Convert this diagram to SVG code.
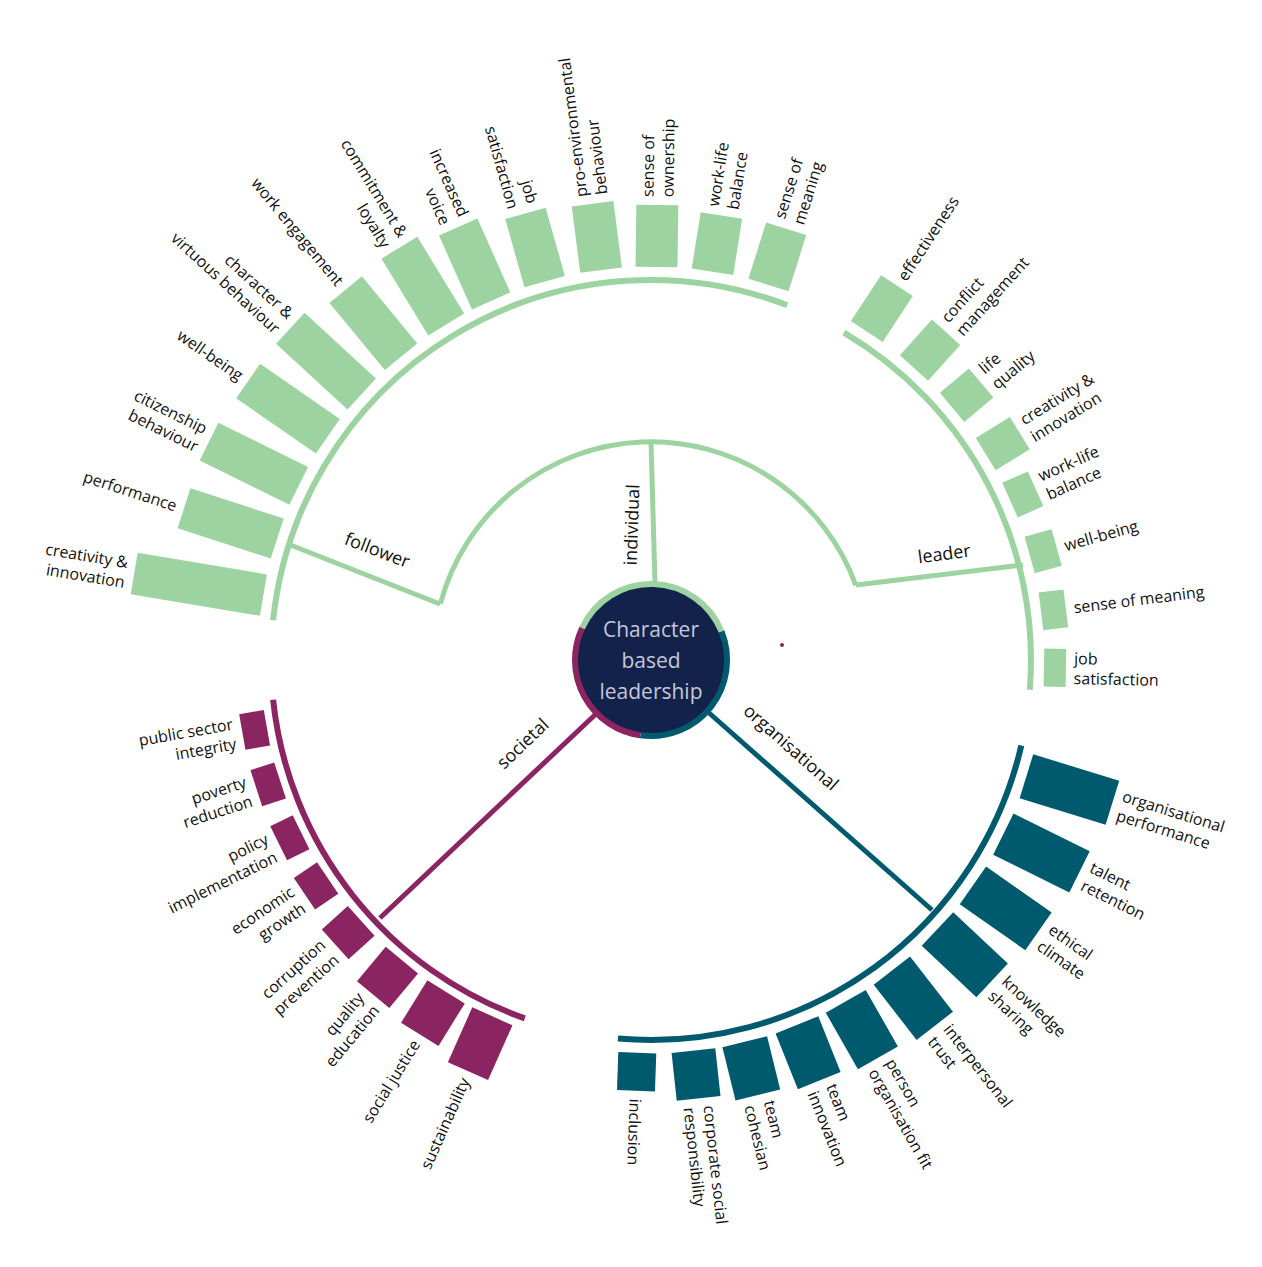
<svg xmlns="http://www.w3.org/2000/svg" width="1262" height="1267" viewBox="0 0 1262 1267">
<style>
.g{fill:#9dd3a0}.b{fill:#005a6e}.p{fill:#8b2562}
.t{font-family:"Open Sans",sans-serif;font-size:16px;fill:#111}
.c{font-family:"Open Sans",sans-serif;font-size:18px;fill:#111;text-anchor:middle}
.sg{stroke:#9dd3a0}.sb{stroke:#005a6e}.sp{stroke:#8b2562}
path,line{fill:none}
</style>
<rect width="1262" height="1267" fill="#fff"/>
<g id="connectors" stroke-width="5">
<path class="sg" stroke-width="6" d="M273.1 620.3 A380 380 0 0 1 787.2 305.2"/>
<path class="sg" stroke-width="6" d="M843.9 332.6 A380 380 0 0 1 1029.8 689.8"/>
<path class="sb" stroke-width="6" d="M1021.3 745.5 A380 380 0 0 1 617.9 1038.6"/>
<path class="sp" stroke-width="6" d="M524.8 1018.4 A380 380 0 0 1 273.1 699.7"/>
<path class="sg" d="M440.4 603.6 A218 218 0 0 1 855.9 585.4"/>
<line class="sg" x1="651" y1="442" x2="655" y2="583"/>
<line class="sg" x1="440" y1="604" x2="288" y2="544"/>
<line class="sg" x1="856" y1="585" x2="1023" y2="565"/>
<line class="sb" x1="708" y1="712" x2="932" y2="910"/>
<line class="sp" x1="598" y1="712" x2="380" y2="918"/>
</g>
<g id="center">
<circle cx="651" cy="660" r="74" fill="#13224a"/>
<path class="sg" stroke-width="6" d="M582.1 627.9 A76 76 0 0 1 721.5 631.5"/>
<path class="sb" stroke-width="6" d="M721.5 631.5 A76 76 0 0 1 640.4 735.3"/>
<path class="sp" stroke-width="6" d="M640.4 735.3 A76 76 0 0 1 582.1 627.9"/>
<text font-family="Open Sans,sans-serif" font-size="21" fill="#c4c6da" text-anchor="middle"><tspan x="651" y="637">Character</tspan><tspan x="651" y="668">based</tspan><tspan x="651" y="699">leadership</tspan></text>
<circle cx="782" cy="645" r="2" fill="#8b2562"/>
</g>
<g id="categories">
<text class="c" transform="translate(375 556) rotate(21)">follower</text>
<text class="c" transform="translate(945 560) rotate(-7.5)">leader</text>
<text class="c" transform="translate(638 525) rotate(-88)">individual</text>
<text class="c" transform="translate(787 752) rotate(41.5)">organisational</text>
<text class="c" transform="translate(527 748) rotate(-43.5)">societal</text>
</g>
<g id="follower">
<g id="f1"><rect class="g" x="393" y="-21" width="131" height="42" transform="translate(651 660) rotate(189.5)"/><text class="t" text-anchor="end" transform="translate(651 660) rotate(189.5) translate(532 0) rotate(180)"><tspan x="0" y="-4">creativity &amp;</tspan><tspan x="0" y="16">innovation</tspan></text></g>
<g id="f2"><rect class="g" x="393" y="-21" width="98" height="42" transform="translate(651 660) rotate(198)"/><text class="t" text-anchor="end" transform="translate(651 660) rotate(198) translate(499 0) rotate(180)"><tspan x="0" y="6">performance</tspan></text></g>
<g id="f3"><rect class="g" x="393" y="-21" width="100" height="42" transform="translate(651 660) rotate(206.3)"/><text class="t" text-anchor="end" transform="translate(651 660) rotate(206.3) translate(501 0) rotate(180)"><tspan x="0" y="-4">citizenship</tspan><tspan x="0" y="16">behaviour</tspan></text></g>
<g id="f4"><rect class="g" x="393" y="-21" width="97" height="42" transform="translate(651 660) rotate(214.7)"/><text class="t" text-anchor="end" transform="translate(651 660) rotate(214.7) translate(498 0) rotate(180)"><tspan x="0" y="6">well-being</tspan></text></g>
<g id="f5"><rect class="g" x="393" y="-21" width="97" height="42" transform="translate(651 660) rotate(222.6)"/><text class="t" text-anchor="end" transform="translate(651 660) rotate(222.6) translate(498 0) rotate(180)"><tspan x="0" y="-4">character &amp;</tspan><tspan x="0" y="16">virtuous behaviour</tspan></text></g>
<g id="f6"><rect class="g" x="393" y="-21" width="87" height="42" transform="translate(651 660) rotate(230.5)"/><text class="t" text-anchor="end" transform="translate(651 660) rotate(230.5) translate(488 0) rotate(180)"><tspan x="0" y="6">work engagement</tspan></text></g>
<g id="f7"><rect class="g" x="393" y="-21" width="90" height="42" transform="translate(651 660) rotate(238.6)"/><text class="t" text-anchor="end" transform="translate(651 660) rotate(238.6) translate(491 0) rotate(180)"><tspan x="0" y="-4">commitment &amp;</tspan><tspan x="0" y="16">loyalty</tspan></text></g>
<g id="f8"><rect class="g" x="393" y="-21" width="81" height="42" transform="translate(651 660) rotate(246)"/><text class="t" text-anchor="end" transform="translate(651 660) rotate(246) translate(482 0) rotate(180)"><tspan x="0" y="-4">increased</tspan><tspan x="0" y="16">voice</tspan></text></g>
<g id="f9"><rect class="g" x="393" y="-21" width="71" height="42" transform="translate(651 660) rotate(254.3)"/><text class="t" text-anchor="end" transform="translate(651 660) rotate(254.3) translate(472 0) rotate(180)"><tspan x="0" y="-4">job</tspan><tspan x="0" y="16">satisfaction</tspan></text></g>
<g id="f10"><rect class="g" x="393" y="-21" width="67" height="42" transform="translate(651 660) rotate(262.7)"/><text class="t" transform="translate(651 660) rotate(262.7) translate(468 0)"><tspan x="0" y="-4">pro-environmental</tspan><tspan x="0" y="16">behaviour</tspan></text></g>
<g id="f11"><rect class="g" x="393" y="-21" width="62" height="42" transform="translate(651 660) rotate(270.8)"/><text class="t" transform="translate(651 660) rotate(270.8) translate(463 0)"><tspan x="0" y="-4">sense of</tspan><tspan x="0" y="16">ownership</tspan></text></g>
<g id="f12"><rect class="g" x="393" y="-21" width="57" height="42" transform="translate(651 660) rotate(279)"/><text class="t" transform="translate(651 660) rotate(279) translate(458 0)"><tspan x="0" y="-4">work-life</tspan><tspan x="0" y="16">balance</tspan></text></g>
<g id="f13"><rect class="g" x="393" y="-21" width="59" height="42" transform="translate(651 660) rotate(287.4)"/><text class="t" transform="translate(651 660) rotate(287.4) translate(460 0)"><tspan x="0" y="-4">sense of</tspan><tspan x="0" y="16">meaning</tspan></text></g>
</g>
<g id="leader">
<g id="l1"><rect class="g" x="393" y="-19" width="55" height="38" transform="translate(651 660) rotate(303.3)"/><text class="t" transform="translate(651 660) rotate(303.3) translate(456 0)"><tspan x="0" y="6">effectiveness</tspan></text></g>
<g id="l2"><rect class="g" x="393" y="-19" width="48" height="38" transform="translate(651 660) rotate(312)"/><text class="t" transform="translate(651 660) rotate(312) translate(449 0)"><tspan x="0" y="-4">conflict</tspan><tspan x="0" y="16">management</tspan></text></g>
<g id="l3"><rect class="g" x="393" y="-19" width="38" height="38" transform="translate(651 660) rotate(320)"/><text class="t" transform="translate(651 660) rotate(320) translate(439 0)"><tspan x="0" y="-4">life</tspan><tspan x="0" y="16">quality</tspan></text></g>
<g id="l4"><rect class="g" x="393" y="-19" width="40" height="38" transform="translate(651 660) rotate(328.4)"/><text class="t" transform="translate(651 660) rotate(328.4) translate(441 0)"><tspan x="0" y="-4">creativity &amp;</tspan><tspan x="0" y="16">innovation</tspan></text></g>
<g id="l5"><rect class="g" x="393" y="-19" width="28" height="38" transform="translate(651 660) rotate(336)"/><text class="t" transform="translate(651 660) rotate(336) translate(429 0)"><tspan x="0" y="-4">work-life</tspan><tspan x="0" y="16">balance</tspan></text></g>
<g id="l6"><rect class="g" x="393" y="-19" width="28" height="38" transform="translate(651 660) rotate(344.5)"/><text class="t" transform="translate(651 660) rotate(344.5) translate(429 0)"><tspan x="0" y="6">well-being</tspan></text></g>
<g id="l7"><rect class="g" x="393" y="-19" width="25" height="38" transform="translate(651 660) rotate(352.9)"/><text class="t" transform="translate(651 660) rotate(352.9) translate(426 0)"><tspan x="0" y="6">sense of meaning</tspan></text></g>
<g id="l8"><rect class="g" x="393" y="-19" width="22" height="38" transform="translate(651 660) rotate(361.1)"/><text class="t" transform="translate(651 660) rotate(361.1) translate(423 0)"><tspan x="0" y="-4">job</tspan><tspan x="0" y="16">satisfaction</tspan></text></g>
</g>
<g id="organisational">
<g id="o1"><rect class="b" x="393" y="-23" width="90" height="46" transform="translate(651 660) rotate(17.2)"/><text class="t" transform="translate(651 660) rotate(17.2) translate(491 0)"><tspan x="0" y="-4">organisational</tspan><tspan x="0" y="16">performance</tspan></text></g>
<g id="o2"><rect class="b" x="393" y="-23" width="85" height="46" transform="translate(651 660) rotate(26.3)"/><text class="t" transform="translate(651 660) rotate(26.3) translate(486 0)"><tspan x="0" y="-4">talent</tspan><tspan x="0" y="16">retention</tspan></text></g>
<g id="o3"><rect class="b" x="393" y="-23" width="80" height="46" transform="translate(651 660) rotate(35)"/><text class="t" transform="translate(651 660) rotate(35) translate(481 0)"><tspan x="0" y="-4">ethical</tspan><tspan x="0" y="16">climate</tspan></text></g>
<g id="o4"><rect class="b" x="393" y="-23" width="75" height="46" transform="translate(651 660) rotate(43.2)"/><text class="t" transform="translate(651 660) rotate(43.2) translate(476 0)"><tspan x="0" y="-4">knowledge</tspan><tspan x="0" y="16">sharing</tspan></text></g>
<g id="o5"><rect class="b" x="393" y="-23" width="70" height="46" transform="translate(651 660) rotate(52.2)"/><text class="t" transform="translate(651 660) rotate(52.2) translate(471 0)"><tspan x="0" y="-4">interpersonal</tspan><tspan x="0" y="16">trust</tspan></text></g>
<g id="o6"><rect class="b" x="393" y="-23" width="65" height="46" transform="translate(651 660) rotate(60.3)"/><text class="t" transform="translate(651 660) rotate(60.3) translate(466 0)"><tspan x="0" y="-4">person</tspan><tspan x="0" y="16">organisation fit</tspan></text></g>
<g id="o7"><rect class="b" x="393" y="-23" width="60" height="46" transform="translate(651 660) rotate(68.2)"/><text class="t" transform="translate(651 660) rotate(68.2) translate(461 0)"><tspan x="0" y="-4">team</tspan><tspan x="0" y="16">innovation</tspan></text></g>
<g id="o8"><rect class="b" x="393" y="-23" width="55" height="46" transform="translate(651 660) rotate(76.2)"/><text class="t" transform="translate(651 660) rotate(76.2) translate(456 0)"><tspan x="0" y="-4">team</tspan><tspan x="0" y="16">cohesian</tspan></text></g>
<g id="o9"><rect class="b" x="393" y="-22" width="48" height="44" transform="translate(651 660) rotate(83.8)"/><text class="t" transform="translate(651 660) rotate(83.8) translate(449 0)"><tspan x="0" y="-4">corporate social</tspan><tspan x="0" y="16">responsibility</tspan></text></g>
<g id="o10"><rect class="b" x="393" y="-19" width="38" height="38" transform="translate(651 660) rotate(92)"/><text class="t" transform="translate(651 660) rotate(92) translate(439 0)"><tspan x="0" y="6">inclusion</tspan></text></g>
</g>
<g id="societal">
<g id="s1"><rect class="p" x="390" y="-18" width="25" height="36" transform="translate(651 660) rotate(170)"/><text class="t" text-anchor="end" transform="translate(651 660) rotate(170) translate(423 0) rotate(180)"><tspan x="0" y="-4">public sector</tspan><tspan x="0" y="16">integrity</tspan></text></g>
<g id="s2"><rect class="p" x="390" y="-19" width="25" height="38" transform="translate(651 660) rotate(162)"/><text class="t" text-anchor="end" transform="translate(651 660) rotate(162) translate(423 0) rotate(180)"><tspan x="0" y="-4">poverty</tspan><tspan x="0" y="16">reduction</tspan></text></g>
<g id="s3"><rect class="p" x="390" y="-19" width="25" height="38" transform="translate(651 660) rotate(153.8)"/><text class="t" text-anchor="end" transform="translate(651 660) rotate(153.8) translate(423 0) rotate(180)"><tspan x="0" y="-4">policy</tspan><tspan x="0" y="16">implementation</tspan></text></g>
<g id="s4"><rect class="p" x="390" y="-19" width="28" height="38" transform="translate(651 660) rotate(146)"/><text class="t" text-anchor="end" transform="translate(651 660) rotate(146) translate(426 0) rotate(180)"><tspan x="0" y="-4">economic</tspan><tspan x="0" y="16">growth</tspan></text></g>
<g id="s5"><rect class="p" x="390" y="-20" width="35" height="40" transform="translate(651 660) rotate(138)"/><text class="t" text-anchor="end" transform="translate(651 660) rotate(138) translate(433 0) rotate(180)"><tspan x="0" y="-4">corruption</tspan><tspan x="0" y="16">prevention</tspan></text></g>
<g id="s6"><rect class="p" x="390" y="-21" width="45" height="42" transform="translate(651 660) rotate(129.7)"/><text class="t" text-anchor="end" transform="translate(651 660) rotate(129.7) translate(443 0) rotate(180)"><tspan x="0" y="-4">quality</tspan><tspan x="0" y="16">education</tspan></text></g>
<g id="s7"><rect class="p" x="390" y="-22" width="50" height="44" transform="translate(651 660) rotate(121.7)"/><text class="t" text-anchor="end" transform="translate(651 660) rotate(121.7) translate(448 0) rotate(180)"><tspan x="0" y="6">social justice</tspan></text></g>
<g id="s8"><rect class="p" x="390" y="-22" width="60" height="44" transform="translate(651 660) rotate(114)"/><text class="t" text-anchor="end" transform="translate(651 660) rotate(114) translate(458 0) rotate(180)"><tspan x="0" y="6">sustainability</tspan></text></g>
</g>
</svg>
